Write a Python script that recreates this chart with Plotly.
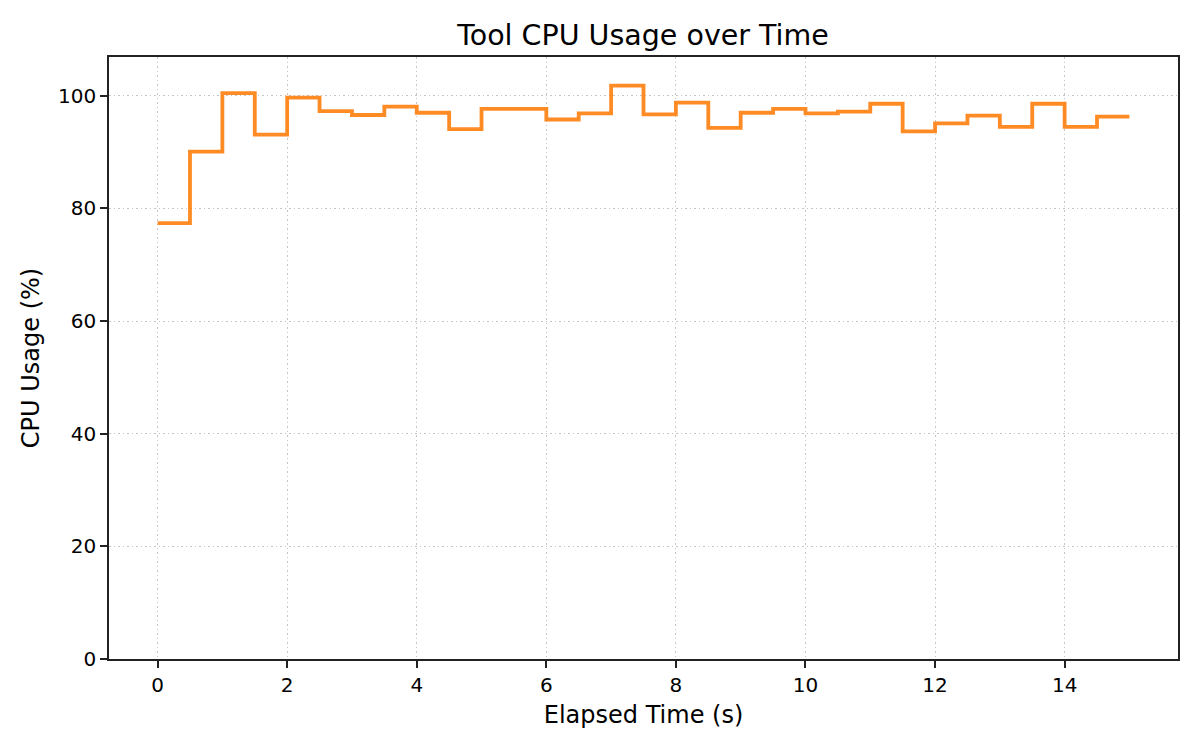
import plotly.graph_objects as go

# sampled every 0.5 s, drawn as steps (post)
elapsed_s = [i * 0.5 for i in range(31)]
cpu_pct = [77.4, 90.1, 100.5, 93.1, 99.7, 97.3, 96.6, 98.1, 97.0, 94.1,
           97.7, 97.7, 95.8, 96.9, 101.8, 96.7, 98.8, 94.3, 97.0, 97.7,
           96.9, 97.2, 98.6, 93.7, 95.1, 96.5, 94.5, 98.6, 94.5, 96.3,
           96.3]

x_ticks = [0, 2, 4, 6, 8, 10, 12, 14]
y_ticks = [0, 20, 40, 60, 80, 100]

# page body has an 8px margin, so the figure is a bit smaller than the window
W, H = 1184, 734

fig = go.Figure()
fig.add_trace(
    go.Scatter(
        x=elapsed_s,
        y=cpu_pct,
        mode="lines",
        line=dict(color="#ff7f0e", width=3.8, shape="hv"),
        opacity=0.9,
        name="CPU",
    )
)

axis_style = dict(
    showline=True,
    linecolor="#222222",
    linewidth=1.6,
    mirror=True,
    ticks="outside",
    ticklen=7,
    tickwidth=1.6,
    tickcolor="#222222",
    showgrid=True,
    gridcolor="#c4c4c4",
    gridwidth=1.2,
    griddash="1.5px,3px",
    zeroline=False,
    tickfont=dict(size=20, color="black"),
)

fig.update_xaxes(
    range=[-0.75, 15.75],
    tickvals=x_ticks,
    title=dict(text="Elapsed Time (s)", font=dict(size=24, color="black"), standoff=10),
    **axis_style,
)
fig.update_yaxes(
    range=[0, 106.9],
    tickvals=y_ticks,
    title=dict(text="CPU Usage (%)", font=dict(size=24, color="black"), standoff=12),
    **axis_style,
)
fig.update_layout(
    width=W,
    height=H,
    showlegend=False,
    plot_bgcolor="white",
    paper_bgcolor="white",
    font=dict(family="DejaVu Sans", color="black"),
    title=dict(
        text="Tool CPU Usage over Time",
        x=635 / W,
        xanchor="center",
        y=1 - 27 / H,
        yanchor="middle",
        yref="container",
        font=dict(size=28.5, color="black"),
    ),
    margin=dict(l=101, r=14, t=49, b=83),
)
fig.write_html("out.html")
